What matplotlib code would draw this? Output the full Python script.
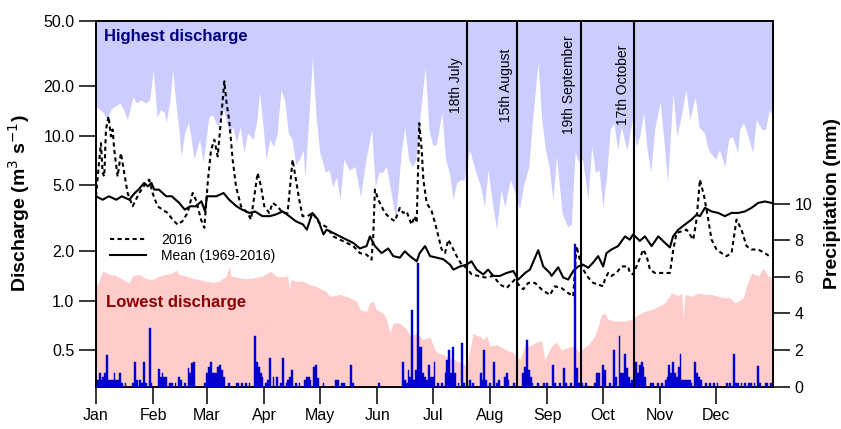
import matplotlib
matplotlib.use("Agg")
import matplotlib.pyplot as plt
from matplotlib.lines import Line2D

plt.rcParams['font.family'] = ['Liberation Sans', 'DejaVu Sans']

# ---------------- data (day of year, 0 = 1 Jan 2016) ----------------
month_days = [0, 31, 60, 91, 121, 152, 182, 213, 244, 274, 305, 335]
month_labels = ['Jan', 'Feb', 'Mar', 'Apr', 'May', 'Jun', 'Jul', 'Aug', 'Sep', 'Oct', 'Nov', 'Dec']

event_days = [200.5, 227.7, 262.0, 290.8]
event_labels = ['18th July', '15th August', '19th September', '17th October']

# highest discharge on record (m3/s)
max_days = [0, 2, 4, 6, 8, 10, 13, 15, 17, 20, 22, 24, 27, 29, 31, 33, 35, 37, 38, 40,
            41.5, 43, 45, 46, 48, 50, 51, 53, 56, 58, 61, 63, 66, 69, 72, 74, 76, 78, 80, 82,
            85, 87, 88.5, 90, 92, 94, 96, 98, 100, 102, 104, 106, 108, 110, 112, 113, 115, 117, 119, 121,
            124, 126, 128, 130, 132, 134, 137, 140, 143, 146, 149, 151, 153, 155, 157, 159, 162, 165, 167, 169,
            171, 173, 175, 178, 180, 182, 184, 187, 189, 191, 193, 195, 197, 199, 202, 205, 208, 210, 212, 214,
            216.6, 219, 221, 224, 226, 229, 231, 234, 236, 239, 241, 243, 245, 247, 249, 252, 255, 257, 259, 261,
            263, 266, 268, 270, 272, 274, 276, 278, 280, 282, 284, 287, 290, 292, 294, 296, 298, 300, 302, 305,
            307, 309, 312, 314, 316, 319, 321, 324, 326, 329, 331, 335, 337, 340, 342, 344, 347, 348, 350, 352,
            355, 357, 360, 362, 364, 366]
max_vals = [15.0, 14.4, 13.8, 12.5, 14.4, 15.0, 15.8, 14.4, 12.5, 17.2, 15.8, 16.5, 15.8, 16.5, 25.1, 13.0, 14.4, 13.8, 12.0, 16.5,
            25.1, 16.5, 10.4, 7.5, 10.4, 12.0, 10.4, 7.2, 9.5, 6.9, 13.0, 13.4, 11.3, 14.4, 10.4, 11.3, 9.1, 11.3, 7.9, 10.4,
            9.5, 12.5, 18.2, 12.5, 7.2, 9.5, 8.6, 10.4, 19.0, 16.5, 10.4, 9.5, 6.7, 7.2, 8.2, 5.6, 12.5, 30.1, 13.0, 7.9,
            6.0, 6.2, 4.9, 5.6, 4.1, 7.2, 6.2, 6.5, 4.3, 7.2, 10.9, 4.9, 6.0, 6.0, 6.5, 4.9, 3.1, 7.9, 11.3, 7.2,
            6.5, 7.2, 12.5, 26.2, 10.9, 8.8, 8.8, 13.8, 7.2, 6.0, 4.1, 5.2, 5.4, 5.4, 8.2, 6.2, 4.9, 3.7, 6.2, 4.1,
            2.7, 4.7, 3.7, 5.4, 4.7, 3.6, 4.9, 6.5, 12.5, 27.7, 12.5, 8.2, 6.5, 4.1, 7.5, 3.4, 2.8, 2.9, 7.9, 6.9,
            7.2, 4.1, 8.6, 6.0, 6.2, 3.7, 5.6, 10.9, 12.0, 8.2, 11.3, 8.2, 12.5, 8.6, 9.9, 13.8, 8.2, 6.0, 10.9, 16.1,
            9.5, 5.2, 18.2, 9.9, 12.5, 19.0, 12.5, 17.2, 11.3, 10.4, 8.2, 7.2, 8.2, 6.5, 9.5, 9.9, 7.9, 10.9, 12.0, 10.4,
            7.9, 12.5, 10.9, 10.9, 14.4, 13.0]

# lowest discharge on record (m3/s)
min_days = [0, 1, 3.6, 7.2, 10.8, 14.4, 18, 19.8, 23.4, 27, 30.6, 34.2, 37.8, 41.4, 43.2, 45, 48.6, 52.3, 55.9, 59.5,
            63.1, 66.7, 70.3, 72.1, 73, 75.7, 79.3, 82.9, 86.5, 90.1, 92.8, 94.6, 97.3, 100.9, 103.6, 104.5, 105.4, 108.1, 111.7, 115.3,
            118.9, 124.3, 126.5, 131.9, 137.3, 140.9, 142.7, 146.3, 148.1, 149.9, 151.7, 155.3, 157.1, 158.9, 160.7, 164.3, 167.9, 169.7, 173.4, 177,
            180.6, 183.3, 185.1, 187.8, 190.5, 193.2, 196.8, 200.4, 204, 205.8, 207.6, 209.4, 211.2, 213, 216.6, 219.3, 222, 225.6, 229.2, 231.9,
            234.6, 238.2, 240.9, 242.7, 246.3, 249, 251.7, 255.3, 258.9, 260.7, 262.5, 266.1, 269.7, 271.5, 273.3, 275.1, 276.9, 280.5, 285.9, 289.5,
            291.3, 293.1, 296.8, 300.4, 304, 307.6, 311.2, 314.8, 316.6, 317.5, 318.4, 322, 325.6, 329.2, 332.8, 336.4, 340, 342.7, 345.4, 347.2,
            349.9, 351.7, 354.4, 358, 360.7, 363.4, 366]
min_vals = [1.28, 1.25, 1.51, 1.44, 1.42, 1.34, 1.28, 1.41, 1.44, 1.36, 1.34, 1.41, 1.44, 1.47, 1.53, 1.44, 1.41, 1.36, 1.34, 1.31,
            1.29, 1.31, 1.41, 1.61, 1.41, 1.39, 1.36, 1.36, 1.38, 1.41, 1.47, 1.51, 1.41, 1.39, 1.41, 1.17, 1.34, 1.31, 1.31, 1.25,
            1.22, 1.14, 1.06, 1.09, 1.04, 0.99, 0.88, 0.86, 0.97, 0.99, 0.88, 0.84, 0.77, 0.64, 0.73, 0.73, 0.67, 0.61, 0.63, 0.58,
            0.60, 0.50, 0.48, 0.47, 0.45, 0.44, 0.42, 0.40, 0.64, 0.61, 0.61, 0.58, 0.61, 0.53, 0.54, 0.52, 0.50, 0.48, 0.44, 0.53,
            0.53, 0.56, 0.57, 0.44, 0.53, 0.56, 0.50, 0.52, 0.53, 0.49, 0.50, 0.54, 0.61, 0.70, 0.82, 0.84, 0.77, 0.75, 0.75, 0.77,
            0.79, 0.82, 0.86, 0.88, 0.92, 0.97, 1.11, 1.07, 1.11, 0.78, 1.09, 1.06, 1.11, 1.09, 1.09, 1.06, 1.04, 1.04, 0.97, 0.99,
            1.04, 1.22, 1.47, 1.41, 1.57, 1.41, 1.34]

# mean discharge 1969-2016 (m3/s)
mean_days = [0, 3.6, 7, 11, 14, 18, 21, 23, 26, 28, 30, 31.5, 34, 38, 41, 45, 48, 51, 54, 57,
             59, 60, 65, 69, 72, 76, 79, 83, 86, 90, 94, 97, 101, 104.5, 108, 112, 114, 117, 120, 123,
             124.7, 128.3, 132, 135.5, 139, 142.7, 146.3, 148.1, 150.8, 154.4, 158, 160.7, 164.3, 167, 169.7, 173.4, 175, 177.9, 180.6, 184.2,
             187.8, 191.4, 193.2, 196.8, 200.4, 203, 205.8, 209.4, 212, 214.8, 218.4, 222, 225.6, 228.3, 232, 234.6, 239.1, 241.8, 245.4,
             246.3, 249.9, 252.6, 255.3, 258, 260.7, 263.4, 266.1, 268.8, 271.5, 274.2, 276, 278.7, 282.3, 286, 288.6, 290.4, 294, 296.8, 300.4,
             304, 307.6, 310.3, 312, 314.8, 318.4, 322, 324.7, 326.5, 329.2, 332.8, 336.4, 340, 343.6, 347.2, 350.8, 354.4, 358, 361.6, 365.2]
mean_vals = [4.29, 4.09, 4.29, 4.09, 4.29, 4.09, 4.49, 4.71, 5.17, 4.93, 5.17, 4.71, 4.71, 4.29, 4.29, 3.91, 3.56, 3.73, 3.73, 4.0,
             3.47, 4.29, 4.29, 4.49, 4.09, 3.73, 3.56, 3.40, 3.47, 3.25, 3.25, 3.32, 3.47, 3.25, 3.03, 2.89, 2.69, 3.40, 3.10, 2.52,
             2.69, 2.57, 2.45, 2.34, 2.24, 2.07, 2.14, 2.45, 2.14, 1.94, 2.07, 1.86, 1.82, 1.99, 1.86, 1.73, 1.94, 2.14, 1.86, 1.82,
             1.78, 1.65, 1.54, 1.61, 1.65, 1.73, 1.54, 1.44, 1.54, 1.41, 1.41, 1.47, 1.51, 1.34, 1.47, 1.54, 2.02, 1.61, 1.47,
             1.41, 1.59, 1.38, 1.34, 1.51, 1.61, 1.65, 1.58, 1.70, 1.86, 1.61, 1.94, 2.04, 2.14, 2.45, 2.34, 2.52, 2.30, 2.45, 2.14,
             2.45, 2.24, 2.10, 2.45, 2.69, 2.89, 3.10, 3.32, 3.25, 3.65, 3.47, 3.40, 3.25, 3.40, 3.40, 3.47, 3.65, 3.91, 3.99, 3.91]

# discharge in 2016 (m3/s)
y2016_days = [0, 1.8, 2.7, 3.6, 4.5, 5.4, 6.8, 8.1, 9, 9.9, 11.7, 13.5, 15.3, 17.1, 19.8, 23.4, 27, 28.8, 30.6, 33.3,
              36, 38.7, 41.4, 44.1, 46.8, 49.5, 52.3, 54, 56.8, 58.6, 60.4, 62.2, 64, 65.8, 67.6, 69.4, 70.6, 72, 73.9, 75.7,
              78.4, 82, 83.8, 85.6, 87.4, 89.2, 91, 93.7, 95.5, 98.2, 100.9, 103.6, 106.3, 108.1, 109.9, 111.7, 114.4, 117.1, 120.7, 124.7,
              128.3, 131.9, 135.5, 139.1, 142.7, 146.3, 149, 149.9, 150.8, 152.6, 154.4, 156.2, 158.9, 161.6, 164.3, 166.1, 167.9, 170.6, 172.4, 173.4,
              174.8, 176.1, 177, 178.8, 181.5, 183.3, 185.1, 186.9, 188.7, 190.5, 192.3, 195, 197.7, 200.4, 203.1, 206.7, 210.3, 214.8, 218.4, 222,
              224.7, 226.5, 229.2, 231, 233.7, 237.3, 240.9, 245.4, 248.1, 251.7, 255.3, 258, 259.8, 261.6, 263.4, 266.1, 268.8, 271.5, 274.2, 275.1,
              276.9, 278.7, 281.4, 284.1, 287.7, 288.6, 290.4, 293.1, 295.9, 297.7, 299.5, 302.2, 305.8, 310.3, 312.1, 313.9, 316.6, 319.3, 322.9, 324.7,
              326.5, 328.8, 331, 332.8, 335.5, 338.2, 340.9, 343.6, 346.3, 349, 351.7, 354.4, 358, 361.6, 365.2]
y2016_vals = [4.29, 7.16, 9.0, 5.94, 5.66, 10.9, 13.1, 9.9, 10.9, 8.2, 5.66, 7.85, 5.94, 4.49, 3.73, 4.49, 5.17, 5.41, 4.49, 3.73,
              3.56, 3.40, 3.10, 2.89, 3.03, 3.40, 4.49, 4.09, 3.10, 2.76, 5.17, 8.2, 9.46, 7.49, 12.5, 21.4, 15.8, 12.5, 7.16, 4.93,
              3.73, 3.40, 3.10, 4.29, 5.94, 4.93, 3.73, 3.40, 3.91, 3.73, 3.40, 3.40, 7.16, 5.41, 4.09, 3.25, 3.25, 3.40, 2.96, 2.79,
              2.45, 2.34, 2.24, 2.14, 1.94, 1.90, 1.77, 2.45, 4.71, 4.09, 3.73, 3.40, 3.17, 3.03, 3.65, 3.40, 3.48, 2.89, 3.25, 2.96,
              11.9, 8.2, 5.41, 3.91, 3.48, 2.96, 2.45, 2.04, 1.94, 2.34, 2.14, 1.86, 1.65, 1.58, 1.44, 1.41, 1.38, 1.41, 1.25, 1.19,
              1.28, 1.34, 1.22, 1.17, 1.28, 1.28, 1.17, 1.08, 1.22, 1.19, 1.11, 1.06, 2.14, 1.77, 1.54, 1.38, 1.28, 1.25, 1.22, 1.34,
              1.47, 1.41, 1.47, 1.61, 1.61, 1.47, 1.44, 1.70, 2.04, 1.86, 1.54, 1.47, 1.47, 1.47, 2.04, 2.57, 2.63, 2.69, 2.34, 3.10,
              5.41, 4.29, 3.10, 2.34, 2.04, 1.94, 1.86, 1.94, 3.10, 2.69, 2.14, 2.04, 2.04, 1.94, 1.82]

# daily precipitation 2016 (mm)
rain_days = [1, 2, 3, 4, 5, 6, 7, 8, 9, 10, 11, 12, 13, 14, 16, 20, 21, 22, 24, 25,
             26, 27, 29, 30, 34, 35, 36, 37, 38, 40, 41, 43, 45, 46, 48, 50, 51, 52, 53, 59,
             60, 61, 62, 63, 64, 65, 66, 67, 68, 69, 72, 76, 77, 79, 81, 83, 86, 87, 88, 89,
             90, 92, 93, 94, 96, 98, 100, 101, 103, 104, 105, 106, 108, 110, 113, 114, 115, 116, 118, 119,
             120, 123, 130, 131, 133, 134, 138, 139, 153, 166, 167, 168, 169, 170, 171, 172, 173, 174, 175, 176,
             177, 178, 179, 180, 181, 182, 183, 185, 187, 189, 190, 191, 192, 193, 194, 196, 198, 199, 202, 204,
             208, 209, 210, 211, 213, 215, 217, 218, 221, 222, 223, 226, 231, 232, 233, 234, 235, 236, 239, 242,
             244, 247, 248, 251, 253, 254, 257, 259, 260, 261, 263, 265, 270, 271, 272, 274, 275, 278, 280, 281,
             283, 284, 285, 286, 287, 288, 289, 290, 292, 293, 294, 295, 296, 297, 300, 301, 304, 306, 308, 309,
             310, 311, 312, 313, 314, 315, 316, 317, 318, 319, 320, 321, 322, 324, 325, 326, 327, 330, 332, 334,
             336, 341, 343, 345, 346, 347, 349, 351, 353, 354, 356, 358, 359, 362, 363, 365]
rain_vals = [0.36, 0.73, 0.36, 0.55, 0.73, 1.73, 0.36, 0.36, 0.36, 0.73, 0.36, 0.36, 0.73, 0.18, 0.18, 0.18, 1.36, 0.36, 0.36, 0.18,
             1.36, 0.18, 3.18, 0.18, 0.96, 0.55, 0.73, 0.55, 0.55, 0.18, 0.18, 0.18, 0.55, 0.36, 0.18, 1.0, 0.73, 1.27, 1.36, 0.18,
             0.73, 1.09, 1.36, 0.73, 0.73, 0.73, 1.09, 1.18, 0.91, 0.55, 0.18, 0.18, 0.18, 0.18, 0.18, 0.18, 2.78, 1.36, 1.09, 0.73,
             0.55, 0.18, 0.36, 1.58, 0.55, 0.55, 0.18, 1.58, 0.18, 0.36, 0.55, 0.91, 0.18, 0.18, 0.36, 0.55, 0.55, 0.36, 1.09, 1.18,
             0.45, 0.18, 0.36, 0.36, 0.18, 0.18, 1.18, 0.18, 0.18, 1.36, 0.36, 0.18, 0.91, 0.55, 4.18, 0.36, 0.91, 6.76, 2.18, 2.18,
             0.73, 0.55, 0.36, 1.18, 0.55, 0.55, 1.36, 0.18, 0.18, 0.73, 1.45, 2.0, 0.73, 2.18, 0.73, 0.18, 2.36, 0.18, 0.36, 0.18,
             0.73, 0.36, 2.0, 0.36, 0.18, 1.36, 0.18, 0.36, 0.55, 0.73, 0.36, 0.18, 0.73, 1.09, 2.55, 0.91, 0.55, 0.18, 0.18, 0.18,
             0.18, 1.18, 0.18, 0.18, 1.0, 0.18, 0.18, 7.78, 1.0, 0.18, 0.18, 0.18, 0.18, 0.73, 0.73, 1.18, 0.91, 0.18, 2.0, 0.55,
             2.78, 0.73, 0.73, 1.78, 1.0, 0.55, 0.18, 0.36, 1.36, 0.73, 1.18, 1.36, 1.09, 0.55, 0.18, 0.18, 0.18, 0.18, 0.36, 0.55,
             1.18, 0.73, 1.36, 0.73, 0.55, 1.09, 1.76, 0.36, 0.36, 0.36, 0.36, 0.36, 0.18, 1.36, 0.73, 0.55, 0.36, 0.18, 0.18, 0.18,
             0.18, 0.18, 0.18, 1.76, 0.18, 0.18, 0.18, 0.18, 0.18, 0.18, 0.18, 1.15, 0.18, 0.18, 0.18, 0.18]

# ---------------- figure ----------------
fig = plt.figure(figsize=(8.41, 4.29), dpi=100)
ax = fig.add_axes([0.1141, 0.0986, 0.805, 0.8536])
ax.set_yscale('log')
ax.set_xlim(0, 366)
ax.set_ylim(0.3, 50)

ax.fill_between(max_days, max_vals, 100, color='#ccccff', lw=0, zorder=1)
ax.fill_between(min_days, 0.01, min_vals, color='#ffcccc', lw=0, zorder=1)

ax.plot(mean_days, mean_vals, color='black', lw=1.5, zorder=4)
ax.plot(y2016_days, y2016_vals, color='black', lw=1.5, ls=(0, (2, 1.6)), zorder=4)

for d, lab in zip(event_days, event_labels):
    ax.axvline(d, color='black', lw=1.5, zorder=5)
    ax.annotate(lab, xy=(d, 0.824), xycoords=('data', 'axes fraction'),
                xytext=(-3, 0), textcoords='offset points', rotation=90,
                ha='right', va='center', fontsize=10, zorder=6)

ax.text(0.012, 0.978, 'Highest discharge', transform=ax.transAxes, ha='left', va='top',
        fontsize=12, fontweight='bold', color='#000080', zorder=6)
ax.text(0.015, 0.25, 'Lowest discharge', transform=ax.transAxes, ha='left', va='top',
        fontsize=12, fontweight='bold', color='#8b0000', zorder=6)

yt = [0.5, 1.0, 2.0, 5.0, 10.0, 20.0, 50.0]
ax.set_yticks(yt)
ax.set_yticklabels(['%.1f' % v for v in yt])
ax.yaxis.set_minor_locator(matplotlib.ticker.NullLocator())
ax.set_xticks(month_days)
ax.set_xticklabels(month_labels)
ax.tick_params(axis='both', which='major', direction='out', length=12.5, width=1.1,
               labelsize=11.5, pad=3)
ax.set_ylabel('Discharge (m$^3$ s$^{-1}$)', fontsize=14, fontweight='bold')
ax.yaxis.set_label_coords(-0.095, 0.5)

handles = [Line2D([], [], color='black', lw=1.5, ls=(0, (2, 1.6))),
           Line2D([], [], color='black', lw=1.5)]
ax.legend(handles, ['2016', 'Mean (1969-2016)'], loc='upper left',
          bbox_to_anchor=(0.012, 0.435), frameon=False, fontsize=10,
          handlelength=2.6, handletextpad=1.1, labelspacing=0.15, borderaxespad=0)

ax2 = ax.twinx()
ax2.set_ylim(0, 20)
ax2.bar(rain_days, rain_vals, width=1.0, color='#0000cc', edgecolor='#0000cc', lw=0.3, zorder=3)
ax2.set_yticks([0, 2, 4, 6, 8, 10])
ax2.tick_params(axis='y', direction='out', length=12.5, width=1.1, labelsize=11.5, pad=3)
ax2.set_ylabel('Precipitation (mm)', fontsize=14, fontweight='bold')
ax2.yaxis.set_label_coords(1.075, 0.5)

for a in (ax, ax2):
    for s in a.spines.values():
        s.set_linewidth(1.2)

fig.savefig('out.png', dpi=100)
